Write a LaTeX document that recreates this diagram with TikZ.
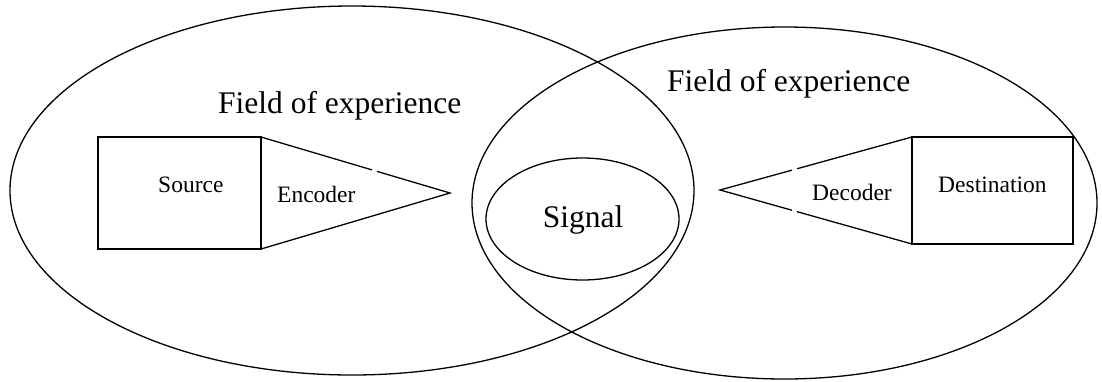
\documentclass[tikz,border=0pt]{standalone}
\usepackage{fontspec}
\setmainfont{Liberation Serif}
\usetikzlibrary{calc}
\begin{document}
\begin{tikzpicture}[x=1pt,y=-1pt,
  outline/.style={draw=black,line width=1.3pt},
  bigtext/.style={inner sep=0pt,font=\fontsize{31.5}{36}\selectfont},
  smalltext/.style={inner sep=0pt,font=\fontsize{23.5}{28}\selectfont}]
\useasboundingbox (0,0) rectangle (1102,381);
% fields of experience
\draw[outline] (352,190.5) ellipse [x radius=342pt, y radius=184.5pt];
\draw[outline] (784.5,203) ellipse [x radius=312.5pt, y radius=176pt];
% signal
\draw[outline] (582.5,219) ellipse [x radius=96.5pt, y radius=61pt];
\node[bigtext,anchor=base] (signal) at (583,227) {Signal};
\node[bigtext,anchor=base west] (foeL) at (218,113) {Field of experience};
\node[bigtext,anchor=base west] (foeR) at (667,91) {Field of experience};
% source and encoder
\coordinate (s1) at (98,137);
\coordinate (s2) at (261,137);
\coordinate (s3) at (261,249);
\coordinate (s4) at (98,249);
\coordinate (ea) at (450,193);
\draw[outline] (s2) -- (s1) -- (s4) -- (s3) -- cycle;
\draw[outline] (s2) -- ($(s2)!0.587!(ea)$);
\draw[outline] ($(s2)!0.614!(ea)$) -- (ea) -- (s3);
\node[smalltext,anchor=base west] (source) at (158,192) {Source};
\node[smalltext,anchor=base west] (encoder) at (277,202) {Encoder};
% destination and decoder
\coordinate (d1) at (912,137);
\coordinate (d2) at (1073,137);
\coordinate (d3) at (1073,244);
\coordinate (d4) at (912,244);
\coordinate (da) at (720,190);
\draw[outline] (d1) -- (d2) -- (d3) -- (d4) -- cycle;
\draw[outline] (d1) -- ($(da)!0.401!(d1)$);
\draw[outline] ($(da)!0.375!(d1)$) -- (da) -- ($(da)!0.375!(d4)$);
\draw[outline] ($(da)!0.401!(d4)$) -- (d4);
\node[smalltext,anchor=base west] (decoder) at (812,200) {Decoder};
\node[smalltext,anchor=base west] (destination) at (938,192) {Destination};
\end{tikzpicture}
\end{document}
